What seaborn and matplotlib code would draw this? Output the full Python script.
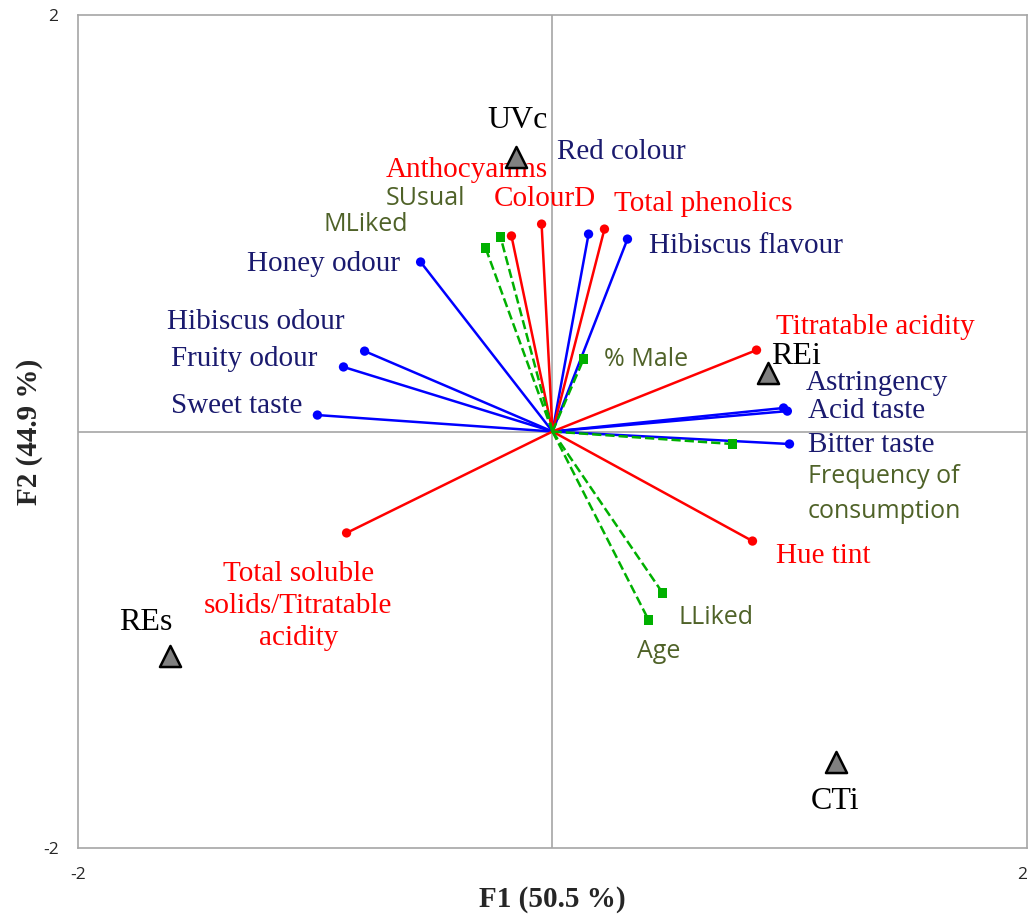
import matplotlib
matplotlib.use("Agg")
import matplotlib.pyplot as plt
import seaborn as sns
import pandas as pd
import numpy as np

# sensory attributes (blue vectors)
sens_names = ['Red colour', 'Hibiscus flavour', 'Honey odour', 'Hibiscus odour',
              'Fruity odour', 'Sweet taste', 'Astringency', 'Acid taste', 'Bitter taste']
sens_f1 = [0.152, 0.316, -0.556, -0.792, -0.881, -0.991, 0.974, 0.990, 0.999]
sens_f2 = [0.948, 0.924, 0.814, 0.386, 0.310, 0.079, 0.113, 0.098, -0.060]

# physico-chemical (red vectors)
chem_names = ['Anthocyanins', 'ColourD', 'Total phenolics', 'Titratable acidity',
              'Hue tint', 'Total soluble\nsolids/Titratable\nacidity']
chem_f1 = [-0.173, -0.046, 0.219, 0.860, 0.843, -0.868]
chem_f2 = [0.939, 0.996, 0.972, 0.391, -0.526, -0.487]

# consumer variables (green dashed vectors)
cons_names = ['SUsual', 'MLiked', '% Male', 'Frequency of\nconsumption', 'LLiked', 'Age']
cons_f1 = [-0.219, -0.282, 0.131, 0.759, 0.464, 0.405]
cons_f2 = [0.934, 0.881, 0.348, -0.060, -0.775, -0.905]

# samples (triangles)
obs_names = ['UVc', 'REi', 'REs', 'CTi']
obs_f1 = [-0.152, 0.910, -1.614, 1.193]
obs_f2 = [1.318, 0.281, -1.078, -1.587]

# label placement (x, y, ha)
sens_lab = [(0.021, 1.342, 'left'), (0.405, 0.889, 'left'), (-0.641, 0.805, 'right'),
            (-1.627, 0.526, 'left'), (-1.610, 0.348, 'left'), (-1.610, 0.122, 'left'),
            (1.066, 0.233, 'left'), (1.079, 0.098, 'left'), (1.079, -0.065, 'left')]
chem_lab = [(-0.362, 1.255, 'center'), (-0.249, 1.118, 'left'), (0.261, 1.094, 'left'),
            (0.944, 0.502, 'left'), (0.940, -0.598, 'left'), (-1.071, -0.838, 'center')]
cons_lab = [(-0.704, 1.121, 'left'), (-0.965, 0.992, 'left'), (0.215, 0.344, 'left'),
            (1.075, -0.300, 'left'), (0.531, -0.891, 'left'), (0.358, -1.054, 'left')]
obs_lab = [(-0.148, 1.495, 'center'), (0.923, 0.358, 'left'),
           (-1.716, -0.915, 'center'), (1.189, -1.776, 'center')]

sns.set_style("white")
plt.rcParams['font.family'] = ['Liberation Serif', 'DejaVu Serif']
plt.rcParams['axes.unicode_minus'] = False

fig = plt.figure(figsize=(10.28, 9.15), dpi=100)
ax = fig.add_axes([0.0759, 0.0732, 0.9231, 0.9104])

ax.axhline(0, color='#A6A6A6', lw=1.2, zorder=0)
ax.axvline(0, color='#A6A6A6', lw=1.2, zorder=0)

navy = '#1A1A6E'
olive = '#4F6228'
serif_fs = 21
sans_fs = 18

groups = [
    (sens_names, sens_f1, sens_f2, sens_lab, '#0000FF', '-', 'o', navy, 'serif'),
    (chem_names, chem_f1, chem_f2, chem_lab, '#FF0000', '-', 'o', '#FF0000', 'serif'),
    (cons_names, cons_f1, cons_f2, cons_lab, '#00B000', '--', 's', olive, 'sans'),
]

for names, f1, f2, labs, col, ls, mk, tcol, fam in groups:
    df = pd.DataFrame({'F1': f1, 'F2': f2, 'name': names})
    for x, y in zip(df['F1'], df['F2']):
        ax.plot([0, x], [0, y], color=col, ls=ls, lw=1.8, zorder=2)
    sns.scatterplot(data=df, x='F1', y='F2', marker=mk, color=col, s=45,
                    edgecolor='none', ax=ax, zorder=3)
    for name, (lx, ly, ha) in zip(names, labs):
        if fam == 'serif':
            ax.text(lx, ly, name, color=tcol, fontsize=serif_fs, ha=ha, va='center',
                    linespacing=1.3, family=['Liberation Serif'])
        else:
            ax.text(lx, ly, name, color=tcol, fontsize=sans_fs, ha=ha, va='center',
                    linespacing=1.55, family=['Open Sans'])

obs = pd.DataFrame({'F1': obs_f1, 'F2': obs_f2, 'name': obs_names})
sns.scatterplot(data=obs, x='F1', y='F2', marker='^', color='#808080', s=230,
                edgecolor='black', linewidth=1.8, ax=ax, zorder=4)
for name, (lx, ly, ha) in zip(obs_names, obs_lab):
    ax.text(lx, ly, name, color='black', fontsize=23, ha=ha, va='center',
            family=['Liberation Serif'])

ax.set_xlim(-2, 2)
ax.set_ylim(-2, 2)
ax.set_xticks([-2, 2])
ax.set_yticks([-2, 2])
ax.tick_params(length=0, labelsize=12.5, pad=14)
for lab in ax.get_xticklabels() + ax.get_yticklabels():
    lab.set_family('Open Sans')
ax.get_xticklabels()[-1].set_ha('right')
for sp in ax.spines.values():
    sp.set_color('#A6A6A6')
    sp.set_linewidth(1.2)

ax.set_xlabel('F1 (50.5 %)', fontsize=21, fontweight='bold', labelpad=2)
ax.set_ylabel('F2 (44.9 %)', fontsize=21, fontweight='bold', labelpad=0)

fig.savefig('out.png', dpi=100)
